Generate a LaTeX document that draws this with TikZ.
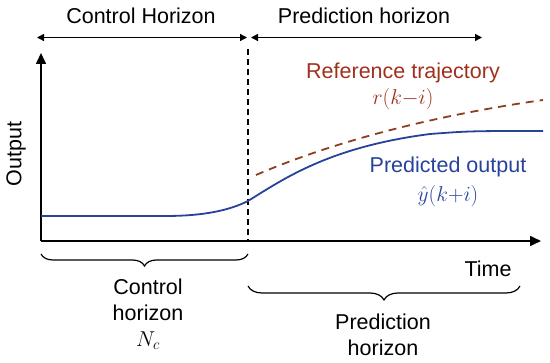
\RequirePackage{fix-cm}
\documentclass[tikz,border=0pt]{standalone}
\usepackage{amsmath,amssymb}
\usepackage{fontspec}
\setmainfont{Liberation Sans}
\usepackage{tikz}
\usetikzlibrary{positioning,arrows.meta,decorations.pathreplacing}
\usepackage{xcolor}
\definecolor{predblue}{RGB}{38,66,155}
\definecolor{refred}{RGB}{160,48,28}
\definecolor{refdash}{RGB}{140,62,32}

\begin{document}
\begin{tikzpicture}[x=1pt,y=-1pt,node distance=3pt and 5mm,
  lbl/.style={font=\fontsize{21.5}{26}\selectfont,inner sep=1pt,align=center},
  axis/.style={line width=1.6pt,-{Triangle[length=11pt,width=10pt]}},
  span/.style={line width=1.4pt,{Triangle[length=7pt,width=7pt]}-{Triangle[length=7pt,width=7pt]}},
  curly/.style={line width=1.2pt,decorate,decoration={brace,mirror,amplitude=#1}}]
\useasboundingbox (0,0) rectangle (550,363);
\coordinate (o) at (41,241);
\coordinate (ytop) at (41,53);
\coordinate (xend) at (541,241);
\coordinate (kt) at (248,241);
% horizons on top
\coordinate (cl) at (37,37.5);
\coordinate (cr) at (247,37.5);
\coordinate (pl) at (251,37.5);
\coordinate (pr) at (482,37.5);
\draw[span] (cl) -- (cr);
\draw[span] (pl) -- (pr);
\node[lbl] (ctop) at (141,16) {Control Horizon};
\node[lbl] (ptop) at (364,16) {Prediction horizon};
% axes
\draw[axis] (o) -- (ytop);
\draw[axis] (o) -- (xend);
\node[lbl,rotate=90] (yl) at (16,154) {Output};
\node[lbl] (xl) at (488,269) {Time};
\draw[line width=1.2pt,dash pattern=on 6pt off 4pt] (248,49) -- (kt);
% curves
\draw[refdash,line width=1.8pt,dash pattern=on 8pt off 6pt]
  (256,175) .. controls (330,143) and (430,116) .. (543,100);
\draw[predblue,line width=1.8pt] (41,216) -- (165,216)
  .. controls (205,216) and (230,210) .. (248,201)
  .. controls (285,178) and (330,147) .. (430,134)
  .. controls (470,131) .. (543,131);
\node[lbl,refred] (ref) at (403,73) {Reference trajectory};
\node[lbl,refred,below=of ref] (rk) {$r(k{-}i)$};
\node[lbl,predblue] (pred) at (448,167) {Predicted output};
\node[lbl,predblue,below=6pt of pred] (yk) {$\hat{y}(k{+}i)$};
% braces below the axis
\coordinate (b1) at (41,254);
\coordinate (b2) at (248,254);
\coordinate (b3) at (248,286);
\coordinate (b4) at (520,286);
\draw[curly=12pt] (b1) -- (b2);
\draw[curly=14pt] (b3) -- (b4);
\node[lbl] (nc) at (148,314) {Control\\horizon\\$N_c$};
\node[lbl] (np) at (383,335) {Prediction\\horizon};
\end{tikzpicture}
\end{document}
